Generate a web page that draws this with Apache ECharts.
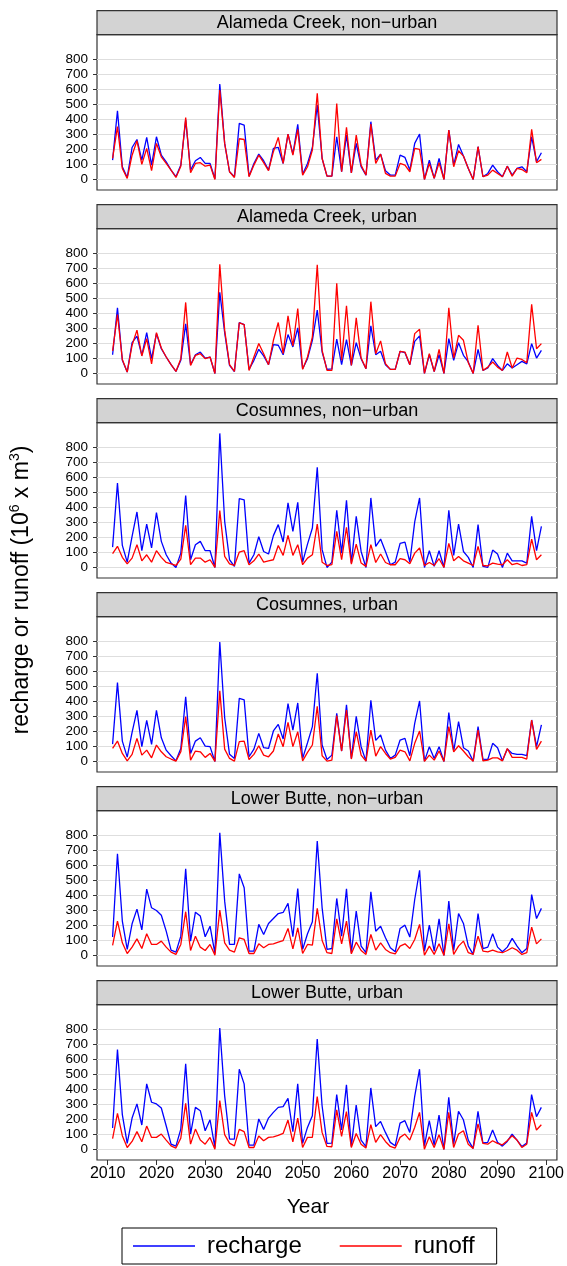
<!DOCTYPE html>
<html>
<head>
<meta charset="utf-8">
<title>Recharge and runoff by watershed</title>
<script src="https://cdn.jsdelivr.net/npm/echarts@6/dist/echarts.min.js"></script>
<style>
  html, body { margin: 0; padding: 0; background: #ffffff; }
  #chart { width: 567px; height: 1266px; }
</style>
</head>
<body>
<div id="chart"></div>
<script>
// Water years 2011-2099
const years = Array.from({ length: 89 }, (_, i) => 2011 + i);

// Annual recharge and runoff, 10^6 x m^3
const alamedaNonUrbanRecharge = [
  128, 456, 84, 13, 212, 265, 128, 279, 95, 283,
  161, 117, 62, 18, 95, 395, 62, 124, 146, 106,
  106, 5, 633, 239, 51, 18, 372, 361, 22, 106,
  168, 124, 62, 206, 212, 106, 301, 168, 365, 35,
  106, 212, 493, 139, 22, 22, 283, 51, 294, 44,
  239, 84, 29, 383, 128, 168, 58, 29, 29, 161,
  146, 62, 239, 301, 0, 128, 7, 139, 0, 327,
  95, 232, 155, 73, 0, 217, 18, 40, 95, 51,
  18, 88, 29, 73, 84, 51, 283, 117, 177
];
const alamedaNonUrbanRunoff = [
  140, 350, 73, 7, 161, 257, 100, 206, 58, 239,
  150, 106, 62, 13, 88, 411, 44, 106, 111, 88,
  95, 0, 593, 239, 51, 13, 270, 265, 18, 95,
  161, 111, 58, 184, 279, 106, 301, 161, 332, 29,
  84, 195, 571, 139, 22, 22, 504, 51, 345, 44,
  294, 95, 29, 367, 106, 168, 40, 22, 22, 106,
  95, 51, 206, 199, 0, 106, 7, 111, 0, 327,
  84, 190, 155, 73, 0, 217, 18, 29, 62, 40,
  18, 88, 22, 73, 66, 44, 332, 111, 133
];
const alamedaUrbanRecharge = [
  124, 436, 87, 9, 204, 247, 120, 271, 98, 264,
  164, 109, 58, 13, 87, 329, 58, 124, 142, 102,
  109, 0, 538, 271, 53, 13, 338, 324, 27, 87,
  160, 116, 58, 191, 187, 124, 258, 176, 302, 31,
  98, 220, 420, 142, 27, 31, 227, 58, 224, 53,
  204, 98, 31, 316, 124, 147, 58, 27, 27, 147,
  138, 58, 213, 249, 0, 124, 13, 124, 0, 231,
  87, 204, 120, 76, 0, 160, 20, 36, 98, 53,
  20, 64, 36, 58, 80, 64, 198, 102, 153
];
const alamedaUrbanRunoff = [
  150, 391, 93, 9, 187, 287, 116, 231, 64, 271,
  169, 109, 58, 13, 98, 471, 53, 120, 131, 98,
  109, 0, 724, 287, 58, 13, 336, 324, 20, 109,
  198, 131, 58, 220, 338, 131, 382, 182, 431, 27,
  109, 242, 720, 153, 20, 20, 598, 87, 449, 53,
  369, 102, 31, 476, 131, 216, 64, 27, 27, 147,
  142, 58, 264, 293, 0, 131, 13, 160, 0, 436,
  102, 253, 220, 71, 0, 320, 20, 42, 76, 42,
  20, 142, 36, 102, 93, 71, 458, 164, 198
];
const cosumnesNonUrbanRecharge = [
  135, 559, 146, 35, 206, 368, 111, 288, 129, 364,
  173, 84, 29, 0, 95, 477, 51, 151, 173, 111,
  111, 0, 889, 306, 51, 7, 457, 448, 29, 84,
  204, 106, 89, 211, 284, 169, 428, 239, 432, 35,
  155, 262, 665, 118, 0, 35, 379, 95, 446, 29,
  339, 106, 0, 461, 140, 188, 106, 18, 35, 160,
  168, 35, 302, 461, 0, 111, 7, 111, 0, 379,
  80, 288, 106, 67, 0, 284, 7, 0, 115, 89,
  0, 95, 44, 44, 44, 29, 339, 111, 273
];
const cosumnesNonUrbanRunoff = [
  91, 140, 67, 24, 62, 151, 44, 84, 35, 111,
  67, 33, 24, 13, 55, 279, 18, 62, 62, 35,
  51, 0, 377, 73, 24, 13, 102, 111, 18, 44,
  89, 35, 44, 51, 146, 80, 213, 80, 151, 18,
  62, 84, 288, 35, 13, 18, 239, 51, 266, 22,
  155, 29, 7, 151, 33, 89, 33, 18, 18, 58,
  51, 24, 95, 129, 13, 33, 13, 58, 0, 160,
  44, 73, 44, 29, 13, 140, 13, 11, 29, 22,
  18, 51, 18, 27, 13, 18, 188, 51, 84
];
const cosumnesUrbanRecharge = [
  115, 523, 135, 29, 193, 339, 98, 273, 113, 339,
  157, 75, 38, 4, 86, 428, 53, 135, 157, 102,
  98, 0, 792, 290, 47, 20, 419, 408, 31, 82,
  186, 91, 86, 202, 246, 149, 384, 208, 388, 20,
  124, 231, 585, 109, 13, 42, 319, 69, 375, 20,
  299, 98, 2, 406, 140, 175, 75, 20, 42, 142,
  153, 38, 253, 401, 2, 98, 20, 98, 0, 324,
  69, 264, 91, 69, 2, 231, 16, 13, 120, 91,
  4, 82, 53, 47, 47, 38, 275, 98, 242
];
const cosumnesUrbanRunoff = [
  86, 135, 53, 4, 47, 153, 42, 75, 24, 109,
  64, 31, 16, 2, 64, 297, 9, 69, 64, 27,
  53, 0, 468, 82, 20, 2, 131, 135, 13, 47,
  104, 42, 31, 69, 182, 98, 259, 98, 197, 4,
  60, 109, 366, 38, 2, 9, 304, 69, 341, 16,
  197, 42, 2, 208, 35, 98, 53, 16, 27, 75,
  64, 4, 120, 202, 0, 42, 9, 69, 0, 231,
  64, 104, 69, 31, 2, 208, 4, 9, 24, 24,
  4, 86, 27, 27, 27, 16, 275, 80, 135
];
const lowerButteNonUrbanRecharge = [
  122, 674, 228, 40, 210, 307, 170, 440, 316, 298,
  267, 161, 35, 22, 128, 575, 95, 287, 261, 124,
  194, 13, 813, 360, 73, 73, 541, 449, 29, 29,
  206, 139, 212, 245, 278, 285, 345, 124, 444, 40,
  144, 223, 758, 316, 40, 46, 378, 128, 442, 18,
  294, 62, 18, 422, 161, 194, 117, 51, 24, 179,
  201, 122, 371, 564, 29, 201, 29, 243, 0, 360,
  33, 278, 212, 62, 7, 278, 46, 55, 144, 55,
  24, 55, 113, 62, 18, 46, 404, 245, 312
];
const lowerButteNonUrbanRunoff = [
  66, 228, 84, 13, 55, 110, 46, 144, 73, 73,
  95, 55, 22, 7, 73, 290, 33, 128, 55, 33,
  73, 2, 301, 84, 35, 22, 117, 106, 13, 13,
  77, 51, 73, 77, 88, 99, 179, 44, 183, 13,
  73, 68, 312, 99, 18, 13, 243, 77, 228, 11,
  88, 33, 7, 139, 35, 84, 40, 18, 11, 62,
  77, 46, 106, 206, 2, 62, 7, 77, 0, 210,
  7, 62, 95, 18, 7, 128, 29, 24, 35, 24,
  18, 33, 51, 35, 7, 18, 188, 77, 110
];
const lowerButteUrbanRecharge = [
  142, 663, 231, 40, 208, 302, 162, 435, 313, 302,
  275, 157, 35, 22, 135, 568, 102, 279, 257, 124,
  197, 13, 805, 357, 69, 69, 532, 435, 29, 29,
  202, 133, 208, 246, 279, 284, 339, 118, 435, 40,
  146, 224, 732, 290, 40, 42, 364, 129, 428, 20,
  295, 62, 18, 408, 151, 186, 113, 47, 24, 175,
  191, 113, 350, 532, 24, 191, 29, 228, 0, 346,
  35, 253, 197, 62, 7, 253, 44, 47, 129, 47,
  22, 53, 102, 62, 20, 42, 364, 217, 279
];
const lowerButteUrbanRunoff = [
  71, 239, 91, 13, 53, 118, 51, 155, 80, 80,
  102, 62, 24, 9, 75, 306, 35, 135, 62, 35,
  80, 2, 324, 98, 42, 24, 133, 118, 13, 13,
  89, 58, 80, 84, 93, 106, 195, 51, 208, 13,
  80, 80, 350, 113, 20, 18, 262, 86, 251, 13,
  106, 35, 9, 164, 47, 98, 53, 20, 9, 80,
  102, 62, 146, 246, 2, 84, 13, 98, 0, 246,
  13, 102, 124, 35, 7, 169, 40, 35, 58, 40,
  31, 58, 91, 62, 13, 35, 246, 129, 164
];

const panelTitles = [
  'Alameda Creek, non\u2212urban',
  'Alameda Creek, urban',
  'Cosumnes, non\u2212urban',
  'Cosumnes, urban',
  'Lower Butte, non\u2212urban',
  'Lower Butte, urban'
];
const rechargeSeries = [
  alamedaNonUrbanRecharge, alamedaUrbanRecharge,
  cosumnesNonUrbanRecharge, cosumnesUrbanRecharge,
  lowerButteNonUrbanRecharge, lowerButteUrbanRecharge
];
const runoffSeries = [
  alamedaNonUrbanRunoff, alamedaUrbanRunoff,
  cosumnesNonUrbanRunoff, cosumnesUrbanRunoff,
  lowerButteNonUrbanRunoff, lowerButteUrbanRunoff
];

const yTicks = [0, 100, 200, 300, 400, 500, 600, 700, 800];
const xTicks = [2010, 2020, 2030, 2040, 2050, 2060, 2070, 2080, 2090, 2100];

// panel geometry
const FONT = '"Liberation Sans", Arial, Helvetica, sans-serif';
const FRAME_LEFT = 97;
const FRAME_WIDTH = 460;
const FIRST_FRAME_TOP = 34.7;
const PANEL_STEP = 194;
const FRAME_HEIGHT = 155.3;
const STRIP_HEIGHT = 24;
const Y_MIN = -70, Y_MAX = 960;
const X_MIN = 2007.8, X_MAX = 2102.2;
const BORDER = '#333333';

const chart = echarts.init(document.getElementById('chart'), null, { renderer: 'canvas' });

const grids = [], xAxes = [], yAxes = [], series = [], graphics = [];
const last = panelTitles.length - 1;

panelTitles.forEach((title, i) => {
  const top = FIRST_FRAME_TOP + i * PANEL_STEP;
  grids.push({
    left: FRAME_LEFT, top: top, width: FRAME_WIDTH, height: FRAME_HEIGHT,
    show: true, backgroundColor: '#ffffff', borderColor: BORDER, borderWidth: 1.2,
    containLabel: false
  });
  xAxes.push({
    type: 'value', gridIndex: i, min: X_MIN, max: X_MAX, position: 'bottom',
    axisLine: { show: false, onZero: false },
    splitLine: { show: false },
    axisTick: { show: i === last, length: 5, inside: false, customValues: xTicks,
                lineStyle: { color: BORDER, width: 1 } },
    axisLabel: { show: i === last, customValues: xTicks, margin: 6,
                 fontSize: 16, color: '#000', fontFamily: FONT,
                 formatter: (v) => String(v) }
  });
  yAxes.push({
    type: 'value', gridIndex: i, min: Y_MIN, max: Y_MAX, position: 'left',
    axisLine: { show: false, onZero: false },
    axisTick: { show: true, length: 4, customValues: yTicks,
                lineStyle: { color: BORDER, width: 1 } },
    axisLabel: { customValues: yTicks, margin: 9, fontSize: 13.5, color: '#000', fontFamily: FONT,
                 formatter: (v) => String(v) },
    splitLine: { show: true, lineStyle: { color: '#dedede', width: 1.2 } }
  });
  series.push({
    name: 'recharge', type: 'line', xAxisIndex: i, yAxisIndex: i,
    data: years.map((y, k) => [y, rechargeSeries[i][k]]),
    symbol: 'none', showSymbol: false,
    lineStyle: { color: '#0000ff', width: 1.3 }, itemStyle: { color: '#0000ff' }
  });
  series.push({
    name: 'runoff', type: 'line', xAxisIndex: i, yAxisIndex: i,
    data: years.map((y, k) => [y, runoffSeries[i][k]]),
    symbol: 'none', showSymbol: false,
    lineStyle: { color: '#ff0000', width: 1.3 }, itemStyle: { color: '#ff0000' }
  });
  // grey title strip above each panel
  graphics.push({
    type: 'rect', z: 10,
    shape: { x: FRAME_LEFT, y: top - STRIP_HEIGHT, width: FRAME_WIDTH, height: STRIP_HEIGHT },
    style: { fill: '#d3d3d3', stroke: BORDER, lineWidth: 1.2 }
  });
  graphics.push({
    type: 'text', z: 11,
    x: FRAME_LEFT + FRAME_WIDTH / 2, y: top - STRIP_HEIGHT / 2 + 0.5,
    style: { text: title, fill: '#000', font: '18px ' + FONT, textAlign: 'center', textVerticalAlign: 'middle' }
  });
});

// shared axis titles
graphics.push({
  type: 'text', z: 11, x: 22, y: 590, rotation: Math.PI / 2,
  style: {
    text: 'recharge or runoff (10{sup|6} x m{sup|3})',
    fill: '#000', font: '23px ' + FONT, textAlign: 'center', textVerticalAlign: 'middle',
    rich: { sup: { fontSize: 14, fontFamily: FONT, verticalAlign: 'top', lineHeight: 28, padding: [0, 0, 10, 0] } }
  }
});
graphics.push({
  type: 'text', z: 11, x: 308, y: 1207,
  style: { text: 'Year', fill: '#000', font: '21px ' + FONT, textAlign: 'center', textVerticalAlign: 'middle' }
});

chart.setOption({
  animation: false,
  backgroundColor: '#ffffff',
  grid: grids,
  xAxis: xAxes,
  yAxis: yAxes,
  series: series,
  graphic: graphics,
  legend: {
    data: [
      { name: 'recharge', icon: 'rect', itemStyle: { color: '#0000ff' } },
      { name: 'runoff', icon: 'rect', itemStyle: { color: '#ff0000' } }
    ],
    left: 122, top: 1228,
    orient: 'horizontal',
    padding: [6, 22, 6, 11],
    itemWidth: 62, itemHeight: 1.6, itemGap: 38,
    borderColor: '#000', borderWidth: 1, backgroundColor: '#fff',
    textStyle: { fontSize: 24, color: '#000', fontFamily: FONT, padding: [0, 0, 0, 7], lineHeight: 23 },
    selectedMode: false
  }
});
</script>
</body>
</html>
